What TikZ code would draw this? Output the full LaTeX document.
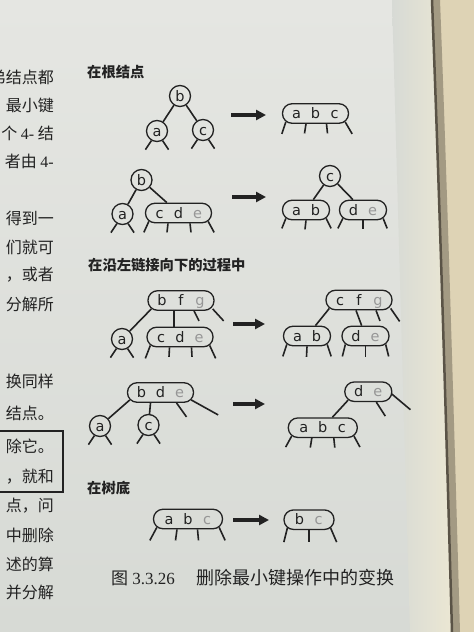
\documentclass[tikz,border=0pt]{standalone}
\usepackage{fontspec}
\setmainfont{Liberation Serif}
\newfontfamily\keyfont{DejaVu Sans}
\newfontfamily\cjk{Noto Sans CJK SC}
\usetikzlibrary{arrows.meta}
\definecolor{ink}{RGB}{34,34,34}
\definecolor{keygrey}{RGB}{150,150,150}
\definecolor{pagetop}{RGB}{229,230,226}
\definecolor{pagebot}{RGB}{215,218,213}
\definecolor{cream}{RGB}{235,231,211}
\definecolor{beige}{RGB}{222,211,181}
\definecolor{edgeline}{RGB}{90,83,70}
\newcommand{\kk}[1]{\makebox[19pt]{#1}}
\newcommand{\kg}[1]{\makebox[19pt]{\textcolor{keygrey}{#1}}}

\begin{document}
\begin{tikzpicture}[%
x=1pt, y=-1pt,
keycirc/.style={circle, draw=ink, line width=1.3pt, minimum size=21pt, inner sep=0pt, text=ink,
  font=\keyfont\fontsize{14.5}{14.5}\selectfont, text height=10pt, text depth=0pt},
keybox/.style={rectangle, rounded corners=9.5pt, draw=ink, line width=1.3pt, minimum height=19.5pt,
  inner xsep=4.5pt, inner ysep=0pt, text=ink,
  font=\keyfont\fontsize{14.5}{14.5}\selectfont, text height=10pt, text depth=0pt},
link/.style={draw=ink, line width=1.6pt},
leg/.style={draw=ink, line width=1.6pt},
bigarrow/.style={draw=ink, line width=3.5pt, -{Triangle[length=10pt,width=10pt]}},
head/.style={anchor=west, inner sep=0pt, text=ink, font=\cjk\bfseries\fontsize{14.3}{14.3}\selectfont},
margin/.style={anchor=east, inner sep=0pt, text=ink, font=\cjk\fontsize{16}{16}\selectfont},
]
\useasboundingbox (0,0) rectangle (474,632);
\clip (0,0) rectangle (474,632);
%% page;
\shade[top color=pagetop, bottom color=pagebot] (0,0) rectangle (474,632);
\shade[left color=pagebot, right color=cream] (392,0) -- (432,0) .. controls (440,210) and (446,420) .. (452,632) -- (410,632) -- cycle;
\fill[beige] (432,0) .. controls (440,210) and (446,420) .. (452,632) -- (474,632) -- (474,0) -- cycle;
\draw[edgeline!45!beige, line width=8pt] (436,0) .. controls (444,210) and (450,420) .. (456,632);
\draw[edgeline, line width=2.5pt] (432,0) .. controls (440,210) and (446,420) .. (452,632);

%% margin text;
\node[margin] (m1) at (54,77) {弟结点都};
\node[margin] (m2) at (54,105) {最小键};
\node[margin] (m3) at (54,133) {个 {\rmfamily 4-} 结};
\node[margin] (m4) at (54,161) {者由 {\rmfamily 4-}};
\node[margin] (m5) at (54,218) {得到一};
\node[margin] (m6) at (54,247) {们就可};
\node[margin] (m7) at (54,275) {，或者};
\node[margin] (m8) at (54,304) {分解所};
\node[margin] (m9) at (54,381) {换同样};
\node[margin] (m10) at (54,413) {结点。};
\node[margin] (m11) at (54,446) {除它。};
\node[margin] (m12) at (54,477) {，就和};
\node[margin] (m13) at (54,506) {点，问};
\node[margin] (m14) at (54,535) {中删除};
\node[margin] (m15) at (54,564) {述的算};
\node[margin] (m16) at (54,592) {并分解};
\draw[ink, line width=1.2pt] (-5,431) rectangle (63,492);

%% at the root;
\node[head] (lroot) at (87,72) {在根结点};
\node[keycirc] (b1) at (180,96) {b};
\node[keycirc] (a1) at (157,131) {a};
\node[keycirc] (c1) at (203,130) {c};
\draw[link] (b1) -- (a1);
\draw[link] (b1) -- (c1);
\draw[leg] (a1.240) -- ++(-6,9);
\draw[leg] (a1.300) -- ++(6,9);
\draw[leg] (c1.240) -- ++(-6,9);
\draw[leg] (c1.300) -- ++(6,9);
\coordinate (t1) at (231,115);
\coordinate (h1) at (266,115);
\draw[bigarrow] (t1) -- (h1);
\node[keybox] (r1) at (315.5,113.5) {\kk{a}\kk{b}\kk{c}};
\draw[leg] ([shift={(4pt,2pt)}]r1.south west) -- ++(-4,12);
\draw[leg] ([xshift=-9.5pt]r1.south) -- ++(-1.5,9.5);
\draw[leg] ([xshift=11pt]r1.south) -- ++(1,9.5);
\draw[leg] ([shift={(-4pt,2pt)}]r1.south east) -- ++(7,12);

%% root, right child a 3-node;
\node[keycirc] (b2) at (141.5,180) {b};
\node[keycirc] (a2) at (122.5,214) {a};
\node[keybox] (cde2) at (178.5,213) {\kk{c}\kk{d}\kg{e}};
\draw[link] (b2) -- (a2);
\draw[link] (b2) -- (cde2);
\draw[leg] (a2.240) -- ++(-6,9);
\draw[leg] (a2.300) -- ++(6,9);
\draw[leg] ([shift={(4pt,2pt)}]cde2.south west) -- ++(-5,11);
\draw[leg] ([xshift=-10.5pt]cde2.south) -- ++(-1,9);
\draw[leg] ([xshift=11.5pt]cde2.south) -- ++(1,9);
\draw[leg] ([shift={(-4pt,2pt)}]cde2.south east) -- ++(6,11);
\coordinate (t2) at (232,197);
\coordinate (h2) at (266,197);
\draw[bigarrow] (t2) -- (h2);
\node[keycirc] (c2) at (330,176) {c};
\node[keybox] (ab2) at (306,210) {\kk{a}\kk{b}};
\node[keybox] (de2) at (363,210) {\kk{d}\kg{e}};
\draw[link] (c2) -- (ab2);
\draw[link] (c2) -- (de2);
\draw[leg] ([shift={(4pt,2pt)}]ab2.south west) -- ++(-4,10);
\draw[leg] (ab2.south) -- ++(-1,9);
\draw[leg] ([shift={(-4pt,2pt)}]ab2.south east) -- ++(5,10);
\draw[leg] ([shift={(4pt,2pt)}]de2.south west) -- ++(-5,10);
\draw[leg] (de2.south) -- ++(0,9);
\draw[leg] ([shift={(-4pt,2pt)}]de2.south east) -- ++(4,10);

%% on the way down the left link;
\node[head] (lpath) at (88,265) {在沿左链接向下的过程中};
\node[keybox] (bfg3) at (181,300.5) {\kk{b}\kk{f}\kg{g}};
\node[keycirc] (a3) at (122,339) {a};
\node[keybox] (cde3) at (180,337) {\kk{c}\kk{d}\kg{e}};
\draw[link] ([shift={(4pt,2pt)}]bfg3.south west) -- (a3);
\draw[link] ([xshift=-7pt]bfg3.south) -- ([xshift=-6pt]cde3.north);
\draw[leg] ([xshift=13pt]bfg3.south) -- ++(5,10);
\draw[leg] ([shift={(-2pt,2pt)}]bfg3.south east) -- ++(11,12);
\draw[leg] (a3.240) -- ++(-6,9);
\draw[leg] (a3.300) -- ++(6,9);
\draw[leg] ([shift={(4pt,2pt)}]cde3.south west) -- ++(-5,13);
\draw[leg] ([xshift=-10.5pt]cde3.south) -- ++(-0.5,9.5);
\draw[leg] ([xshift=11.5pt]cde3.south) -- ++(0.5,9.5);
\draw[leg] ([shift={(-4pt,2pt)}]cde3.south east) -- ++(6,13);
\coordinate (t3) at (233,324);
\coordinate (h3) at (265,324);
\draw[bigarrow] (t3) -- (h3);
\node[keybox] (cfg3) at (359,300) {\kk{c}\kk{f}\kg{g}};
\node[keybox] (ab3) at (307,336) {\kk{a}\kk{b}};
\node[keybox] (de3) at (365.5,336) {\kk{d}\kg{e}};
\draw[link] ([shift={(4pt,2pt)}]cfg3.south west) -- (ab3);
\draw[link] ([xshift=-3pt]cfg3.south) -- (de3);
\draw[leg] ([xshift=17pt]cfg3.south) -- ++(4,10.5);
\draw[leg] ([shift={(-2pt,2pt)}]cfg3.south east) -- ++(9,13);
\draw[leg] ([shift={(4pt,2pt)}]ab3.south west) -- ++(-4,12);
\draw[leg] (ab3.south) -- ++(-0.5,10.5);
\draw[leg] ([shift={(-4pt,2pt)}]ab3.south east) -- ++(4,12);
\draw[leg] ([shift={(4pt,2pt)}]de3.south west) -- ++(-3,12);
\draw[leg] (de3.south) -- ++(0,10.5);
\draw[leg] ([shift={(-4pt,2pt)}]de3.south east) -- ++(3,12);

%% left child a 2-node, sibling a 2-node;
\node[keybox] (bde4) at (160.5,392.5) {\kk{b}\kk{d}\kg{e}};
\node[keycirc] (a4) at (100,426) {a};
\node[keycirc] (c4) at (148.5,425) {c};
\draw[link] ([shift={(3pt,3pt)}]bde4.south west) -- (a4);
\draw[link] ([xshift=-10pt]bde4.south) -- (c4);
\draw[leg] ([xshift=16pt]bde4.south) -- ++(10,14);
\draw[leg] ([shift={(-3pt,3pt)}]bde4.south east) -- ++(27,15);
\draw[leg] (a4.240) -- ++(-6,9);
\draw[leg] (a4.300) -- ++(6,9);
\draw[leg] (c4.240) -- ++(-6,9);
\draw[leg] (c4.300) -- ++(6,9);
\coordinate (t4) at (233,404);
\coordinate (h4) at (265,404);
\draw[bigarrow] (t4) -- (h4);
\node[keybox] (de4) at (368.3,391.7) {\kk{d}\kg{e}};
\node[keybox, inner xsep=6pt] (abc4) at (322.8,427.7) {\kk{a}\kk{b}\kk{c}};
\draw[link] ([shift={(4pt,2pt)}]de4.south west) -- (abc4);
\draw[leg] ([xshift=8pt]de4.south) -- ++(9,14);
\draw[leg] ([shift={(-1pt,-2pt)}]de4.east) -- ++(19,16);
\draw[leg] ([shift={(4pt,2pt)}]abc4.south west) -- ++(-6,11);
\draw[leg] ([xshift=-11pt]abc4.south) -- ++(-1.5,9.5);
\draw[leg] ([xshift=11pt]abc4.south) -- ++(1,9.5);
\draw[leg] ([shift={(-4pt,2pt)}]abc4.south east) -- ++(6,11);

%% at the bottom;
\node[head] (lbottom) at (87,488) {在树底};
\node[keybox, inner xsep=6pt] (abc5) at (188,519) {\kk{a}\kk{b}\kg{c}};
\draw[leg] ([shift={(4pt,2pt)}]abc5.south west) -- ++(-7,13);
\draw[leg] ([xshift=-11pt]abc5.south) -- ++(-1.5,11);
\draw[leg] ([xshift=9.5pt]abc5.south) -- ++(1,11);
\draw[leg] ([shift={(-4pt,2pt)}]abc5.south east) -- ++(6,13);
\coordinate (t5) at (233,520);
\coordinate (h5) at (269,520);
\draw[bigarrow] (t5) -- (h5);
\node[keybox, inner xsep=6pt] (bc5) at (309,519.7) {\kk{b}\kg{c}};
\draw[leg] ([shift={(4pt,2pt)}]bc5.south west) -- ++(-3.5,14);
\draw[leg] (bc5.south) -- ++(0,12);
\draw[leg] ([shift={(-4pt,2pt)}]bc5.south east) -- ++(6,14);

%% caption;
\node[anchor=west, inner sep=0pt, text=ink, font=\fontsize{17}{17}\selectfont] (fignum) at (111,578) {{\cjk 图} 3.3.26};
\node[anchor=west, inner sep=0pt, text=ink, font=\cjk\fontsize{18}{18}\selectfont] (figtext) at (196,578) {删除最小键操作中的变换};
\end{tikzpicture}
\end{document}
